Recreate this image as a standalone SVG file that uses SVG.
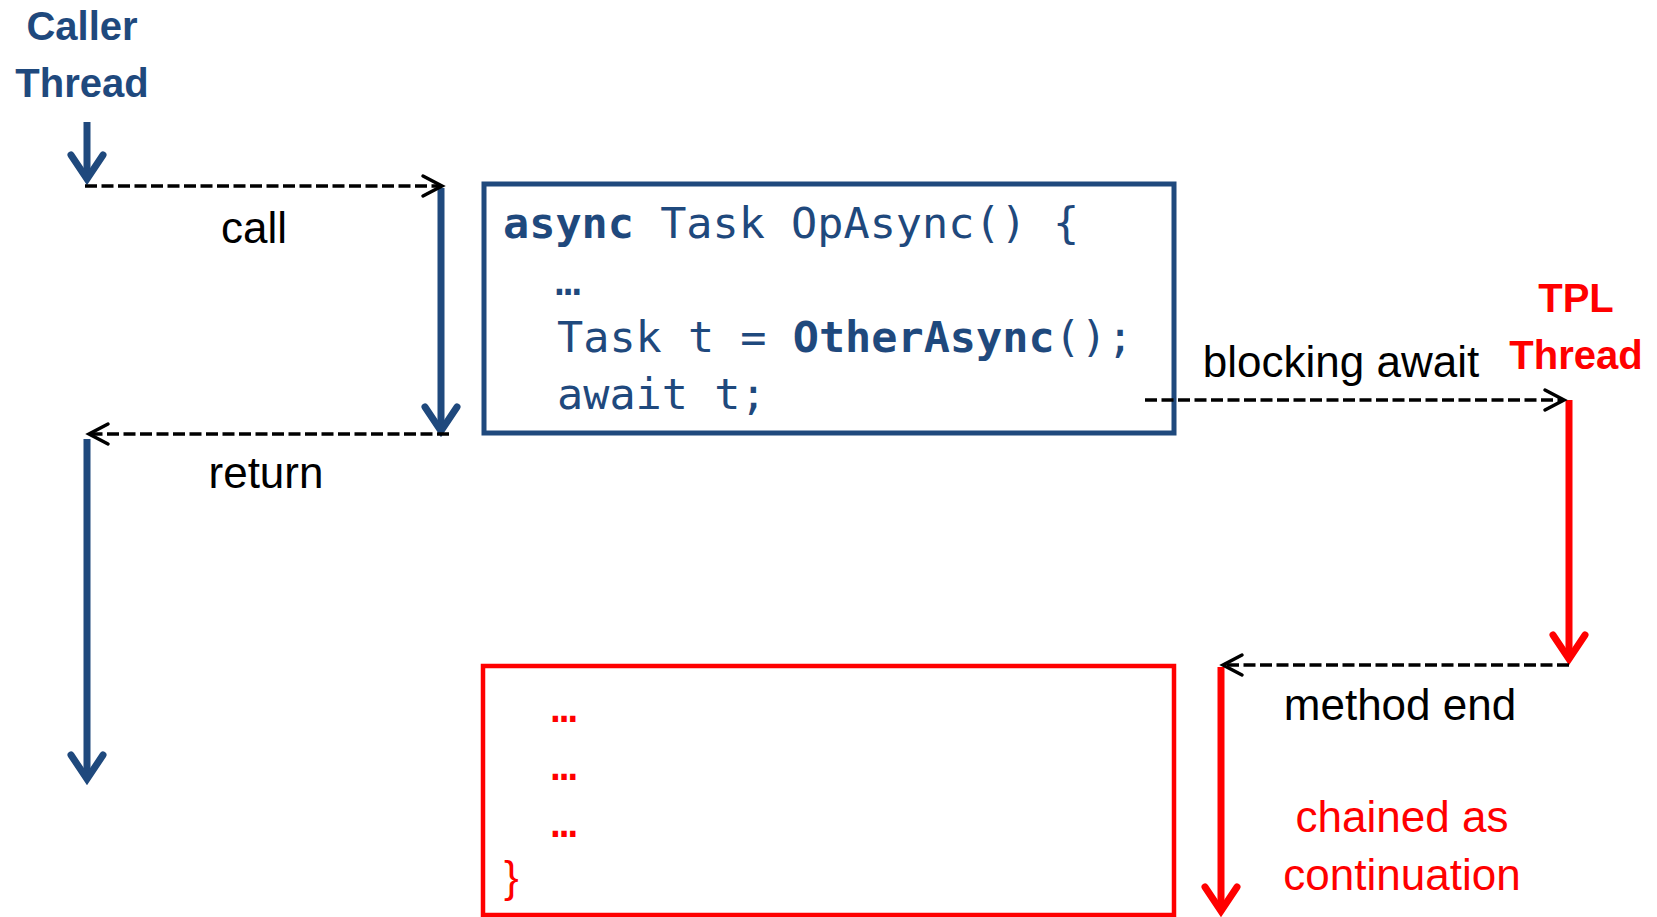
<svg xmlns="http://www.w3.org/2000/svg" width="1657" height="917" viewBox="0 0 1657 917">
<style>
.lbl{font-family:"Liberation Sans",Arial,sans-serif;font-size:44px;fill:#000;text-anchor:middle}
.head{font-family:"Liberation Sans",Arial,sans-serif;font-size:40px;font-weight:bold;text-anchor:middle}
.code{font-family:"DejaVu Sans Mono","Liberation Mono",monospace;font-size:43.5px}
.blue{fill:#1F497D}
.red{fill:#FF0000}
.thickB{stroke:#1F497D;stroke-width:7;fill:none;marker-end:url(#headB)}
.thickR{stroke:#FF0000;stroke-width:7;fill:none;marker-end:url(#headR)}
.dash{stroke:#000;stroke-width:3.5;fill:none;stroke-dasharray:12 4.5;marker-end:url(#headD)}
</style>
<defs>
<marker id="headB" markerUnits="userSpaceOnUse" orient="auto" refX="0" refY="0" markerWidth="60" markerHeight="60" overflow="visible">
<path d="M-24,-16 L0,0 L-24,16" fill="none" stroke="#1F497D" stroke-width="7" stroke-linejoin="miter" stroke-linecap="round"/>
</marker>
<marker id="headR" markerUnits="userSpaceOnUse" orient="auto" refX="0" refY="0" markerWidth="60" markerHeight="60" overflow="visible">
<path d="M-24,-16 L0,0 L-24,16" fill="none" stroke="#FF0000" stroke-width="7" stroke-linejoin="miter" stroke-linecap="round"/>
</marker>
<marker id="headD" markerUnits="userSpaceOnUse" orient="auto" refX="0" refY="0" markerWidth="40" markerHeight="40" overflow="visible">
<path d="M-19,-10 L0,0 L-19,10" fill="none" stroke="#000" stroke-width="3.5" stroke-linejoin="miter" stroke-linecap="round"/>
</marker>
</defs>

<g id="caller-thread">
<text class="head blue" x="82" y="40">Caller</text>
<text class="head blue" x="82" y="97">Thread</text>
</g>

<g id="tpl-thread">
<text class="head red" x="1576" y="312">TPL</text>
<text class="head red" x="1576" y="369">Thread</text>
</g>

<g id="code-box">
<rect x="484" y="184" width="690" height="249" fill="none" stroke="#1F497D" stroke-width="5"/>
<text class="code blue" x="503" y="238"><tspan font-weight="bold">async</tspan> Task OpAsync() {</text>
<text class="code blue" x="555" y="295">…</text>
<text class="code blue" x="557" y="352">Task t = <tspan font-weight="bold">OtherAsync</tspan>();</text>
<text class="code blue" x="557" y="409">await t;</text>
</g>

<g id="continuation-box">
<rect x="483" y="666" width="691" height="249" fill="none" stroke="#FF0000" stroke-width="4.5"/>
<text class="code red" font-size="48" x="551" y="722">…</text>
<text class="code red" font-size="48" x="551" y="780">…</text>
<text class="code red" font-size="48" x="551" y="837">…</text>
<text font-family="Liberation Sans,Arial,sans-serif" font-size="44" class="red" x="504" y="892">}</text>
</g>

<g id="labels">
<text class="lbl" x="254" y="243">call</text>
<text class="lbl" x="266" y="488">return</text>
<text class="lbl" x="1341" y="377">blocking await</text>
<text class="lbl" x="1400" y="720">method end</text>
<text class="lbl red" x="1402" y="832">chained as</text>
<text class="lbl red" x="1402" y="890">continuation</text>
</g>

<g id="connectors">
<path class="thickB" d="M87,122 L87,179"/>
<path class="thickB" d="M441,188 L441,431"/>
<path class="thickB" d="M87,439 L87,779"/>
<path class="thickR" d="M1569,400 L1569,659"/>
<path class="thickR" d="M1221,667 L1221,911"/>
<path class="dash" d="M85,186 L442,186"/>
<path class="dash" d="M449,434 L89,434"/>
<path class="dash" d="M1145,400 L1564,400"/>
<path class="dash" d="M1569,665 L1223,665"/>
</g>
</svg>
